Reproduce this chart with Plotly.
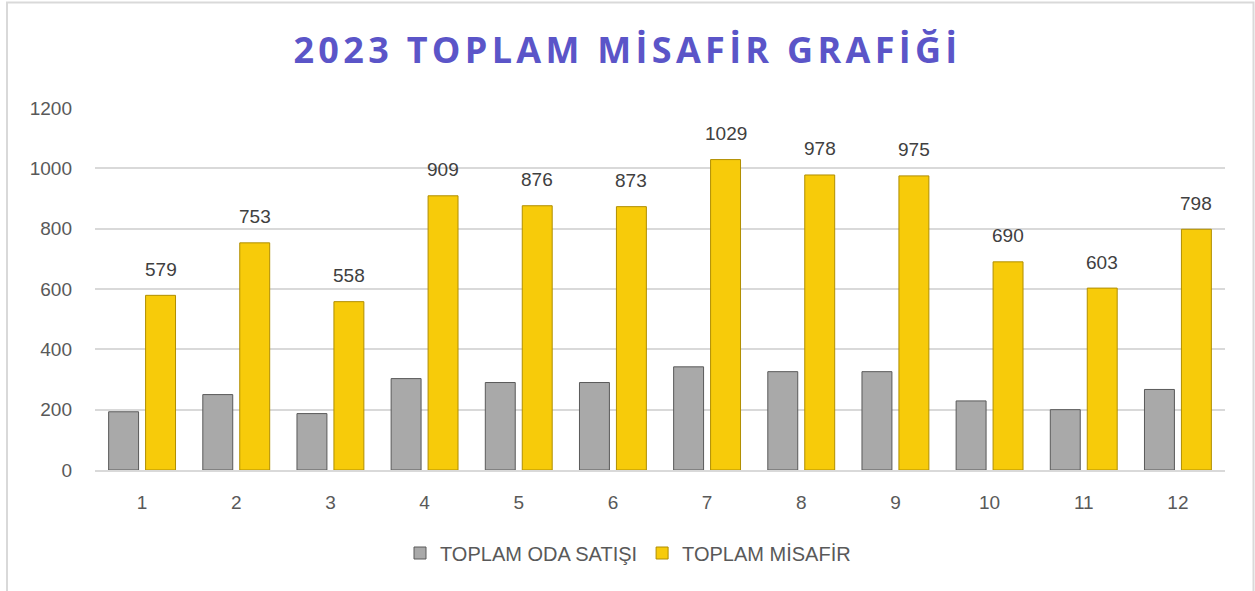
import plotly.graph_objects as go

categories = ["1", "2", "3", "4", "5", "6", "7", "8", "9", "10", "11", "12"]
oda_satisi = [193, 250, 187, 303, 290, 290, 342, 326, 326, 229, 200, 267]
misafir = [579, 753, 558, 909, 876, 873, 1029, 978, 975, 690, 603, 798]
y_ticks = [0, 200, 400, 600, 800, 1000, 1200]

fig = go.Figure()
fig.add_trace(go.Bar(
    x=categories, y=oda_satisi, name="TOPLAM ODA SATIŞI",
    marker=dict(color="#A9A9A9", line=dict(color="#5a5a5a", width=1)),
))
fig.add_trace(go.Bar(
    x=categories, y=misafir, name="TOPLAM MİSAFİR",
    marker=dict(color="#F7CB0A", line=dict(color="#B08E00", width=1)),
))

# data labels for the gold series (category index positions)
for i, v in enumerate(misafir):
    fig.add_annotation(
        x=i, y=v, xref="x", yref="y", text=str(v), showarrow=False,
        xshift=18.5, yshift=26, yanchor="middle",
        font=dict(size=19, color="#404040", family="Liberation Sans, Arial"),
    )

W, H = 1255, 591
L, R, T, B = 95, 30, 108, 121
pw, ph = W - L - R, H - T - B

fig.update_layout(
    width=W, height=H,
    margin=dict(l=L, r=R, t=T, b=B, autoexpand=False),
    paper_bgcolor="white", plot_bgcolor="white",
    barmode="group", bargap=0.215, bargroupgap=0.19,
    title=dict(
        text='<b><span style="letter-spacing:4.3px">2023 TOPLAM MİSAFİR GRAFİĞİ</span></b>',
        x=0.5, xanchor="center", xref="container", y=1 - 50 / H, yanchor="middle",
        font=dict(size=36, color="#5B55C8", family="Open Sans, Liberation Sans"),
    ),
    font=dict(family="Liberation Sans, Arial", color="#595959"),
    legend=dict(
        orientation="h", x=(628 - L) / pw, xanchor="center",
        y=-(553 - 470) / ph, yanchor="middle",
        font=dict(size=20, color="#595959"), traceorder="normal",
    ),
    xaxis=dict(
        type="category",
        showgrid=False, showline=True, linecolor="#d9d9d9", linewidth=1.5,
        tickfont=dict(size=19, color="#595959"), ticks="", ticklabelstandoff=14,
    ),
    yaxis=dict(
        range=[0, 1200], tickvals=y_ticks, showgrid=True, gridcolor="#d9d9d9", gridwidth=1.5,
        zeroline=False, tickfont=dict(size=19, color="#595959"), ticks="", ticklabelstandoff=22,
    ),
    shapes=[dict(
        type="rect", xref="paper", yref="paper",
        x0=(7 - L) / pw, x1=(1253.5 - L) / pw,
        y0=-(600 - (T + ph)) / ph, y1=1 + (T - 2.5) / ph,
        line=dict(color="#d9d9d9", width=2), fillcolor="rgba(0,0,0,0)", layer="below",
    )],
)

fig.write_html(
    "out.html",
    config={"displayModeBar": False},
    post_script="document.body.style.margin='0';document.body.style.overflow='hidden';",
)
